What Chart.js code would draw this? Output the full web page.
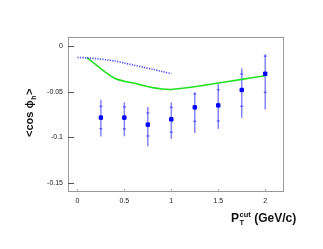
<!DOCTYPE html>
<html>
<head>
<meta charset="utf-8">
<script src="https://cdn.jsdelivr.net/npm/chart.js@4"></script>
<style>
  html, body { margin: 0; padding: 0; background: #fff; }
  #wrap { width: 323px; height: 249px; }
</style>
</head>
<body>
<div id="wrap"><canvas id="cosChart" width="323" height="249"></canvas></div>
<script>
// data
const ptCut = [0.25, 0.5, 0.75, 1.0, 1.25, 1.5, 1.75, 2.0];
const cosPhi = [-0.0784, -0.0784, -0.0861, -0.0803, -0.0672, -0.065, -0.0481, -0.0303];
const errHi = [-0.0587, -0.0617, -0.0667, -0.0617, -0.0507, -0.0416, -0.0245, -0.0088];
const errLo = [-0.0992, -0.0989, -0.1098, -0.1018, -0.0952, -0.0908, -0.0788, -0.0694];
const statHi = [-0.066, -0.0667, -0.0733, -0.0672, -0.0525, -0.0478, -0.0306, -0.0110];
const statLo = [-0.0905, -0.0908, -0.0985, -0.0945, -0.0825, -0.0821, -0.066, -0.0507];

const dotX = [0, 0.1, 0.2, 0.3, 0.4, 0.5, 0.6, 0.7, 0.8, 0.9, 1.0];
const dotY = [-0.0125, -0.0128, -0.0137, -0.015, -0.0164, -0.0186, -0.0208, -0.0231, -0.0254, -0.0278, -0.0303];

const greenX = [0.1, 0.2, 0.3, 0.4, 0.5, 0.6, 0.7, 0.8, 0.9, 1.0, 1.25, 1.5, 1.75, 2.0];
const greenY = [-0.0125, -0.0205, -0.0288, -0.0355, -0.0385, -0.0405, -0.0432, -0.0455, -0.047, -0.0475, -0.0445, -0.0405, -0.0365, -0.0325];

const xTicks = [0, 0.5, 1, 1.5, 2];
const yTicks = [0, -0.05, -0.1, -0.15];

function pairs(xs, ys) {
    return xs.map((x, i) => ({ x: x, y: ys[i] }));
}

// error bars, inward ticks, frame and axis titles
const decorPlugin = {
    id: 'decor',
    beforeDatasetsDraw(chart) {
        const ctx = chart.ctx;
        const xs = chart.scales.x, ys = chart.scales.y;
        ctx.save();
        ctx.strokeStyle = 'rgba(30,30,255,0.55)';
        ctx.lineWidth = 1.5;
        ptCut.forEach((x, i) => {
            const px = xs.getPixelForValue(x);
            ctx.beginPath();
            ctx.moveTo(px, ys.getPixelForValue(errHi[i]));
            ctx.lineTo(px, ys.getPixelForValue(errLo[i]));
            ctx.stroke();
            [statHi[i], statLo[i]].forEach(v => {
                const py = ys.getPixelForValue(v);
                ctx.beginPath();
                ctx.moveTo(px - 1.5, py);
                ctx.lineTo(px + 1.5, py);
                ctx.stroke();
            });
        });
        ctx.restore();
    },
    afterDraw(chart) {
        const ctx = chart.ctx;
        const a = chart.chartArea;
        const xs = chart.scales.x, ys = chart.scales.y;
        ctx.save();
        ctx.strokeStyle = '#999';
        ctx.lineWidth = 1;
        ctx.strokeRect(a.left + 0.5, a.top + 0.5, a.right - a.left - 1, a.bottom - a.top - 1);

        ctx.strokeStyle = '#555';
        yTicks.forEach(v => {
            const py = Math.round(ys.getPixelForValue(v)) + 0.5;
            ctx.beginPath();
            ctx.moveTo(a.left, py);
            ctx.lineTo(a.left + 6, py);
            ctx.stroke();
        });
        ctx.strokeStyle = '#aaa';
        xTicks.forEach(v => {
            const px = Math.round(xs.getPixelForValue(v)) + 0.5;
            ctx.beginPath();
            ctx.moveTo(px, a.bottom);
            ctx.lineTo(px, a.bottom - 3);
            ctx.stroke();
        });

        // x title: P_T^cut (GeV/c)
        ctx.fillStyle = '#111';
        ctx.textBaseline = 'alphabetic';
        ctx.font = 'bold 12px "Liberation Sans", Arial, sans-serif';
        let tx = 231, ty = 222;
        ctx.fillText('P', tx, ty);
        const pw = ctx.measureText('P').width;
        ctx.font = 'bold 7.5px "Liberation Sans", Arial, sans-serif';
        ctx.fillText('cut', tx + pw + 0.5, ty - 5.5);
        ctx.fillText('T', tx + pw + 0.5, ty + 3);
        const cw = ctx.measureText('cut').width;
        ctx.font = 'bold 12px "Liberation Sans", Arial, sans-serif';
        ctx.fillText('(GeV/c)', tx + pw + cw + 4, ty);

        // y title: <cos phi_h>
        ctx.translate(33, 137);
        ctx.rotate(-Math.PI / 2);
        ctx.font = 'bold 11px "Liberation Sans", Arial, sans-serif';
        const p1 = '<cos \u03d5';
        ctx.fillText(p1, 0, 0);
        let w = ctx.measureText(p1).width;
        ctx.font = 'bold 7px "Liberation Sans", Arial, sans-serif';
        ctx.fillText('h', w + 0.5, 3);
        w += ctx.measureText('h').width + 1;
        ctx.font = 'bold 11px "Liberation Sans", Arial, sans-serif';
        ctx.fillText('>', w, 0);
        ctx.restore();
    }
};

const tickFont = { family: '"Liberation Sans", Arial, sans-serif', size: 7 };

new Chart(document.getElementById('cosChart').getContext('2d'), {
    type: 'scatter',
    data: {
        datasets: [
            {
                label: 'data',
                data: pairs(ptCut, cosPhi),
                backgroundColor: '#0000ff',
                borderColor: '#0000ff',
                pointStyle: 'rect',
                pointRadius: 2.4,
                showLine: false
            },
            {
                label: 'dotted',
                data: pairs(dotX, dotY),
                borderColor: 'rgba(40,40,255,0.85)',
                borderWidth: 1.6,
                borderDash: [1.2, 1.3],
                pointRadius: 0,
                showLine: true,
                tension: 0.3
            },
            {
                label: 'green',
                data: pairs(greenX, greenY),
                borderColor: '#22e022',
                borderWidth: 1.6,
                pointRadius: 0,
                showLine: true,
                tension: 0.3
            }
        ]
    },
    options: {
        responsive: false,
        animation: false,
        layout: { padding: { top: 37, right: 39, left: 0, bottom: 0 } },
        plugins: { legend: { display: false }, tooltip: { enabled: false } },
        scales: {
            x: {
                type: 'linear',
                min: -0.1,
                max: 2.2,
                afterBuildTicks: s => { s.ticks = xTicks.map(v => ({ value: v })); },
                afterFit: s => { s.height = 57; },
                grid: { display: false, drawTicks: false },
                border: { display: false },
                ticks: { font: tickFont, color: '#222', padding: 5, maxRotation: 0,
                         callback: v => String(v) }
            },
            y: {
                type: 'linear',
                min: -0.16,
                max: 0.01,
                afterBuildTicks: s => { s.ticks = yTicks.map(v => ({ value: v })); },
                afterFit: s => { s.width = 68; },
                grid: { display: false, drawTicks: false },
                border: { display: false },
                ticks: { font: tickFont, color: '#222', padding: 5,
                         callback: v => String(v) }
            }
        }
    },
    plugins: [decorPlugin]
});
</script>
</body>
</html>
